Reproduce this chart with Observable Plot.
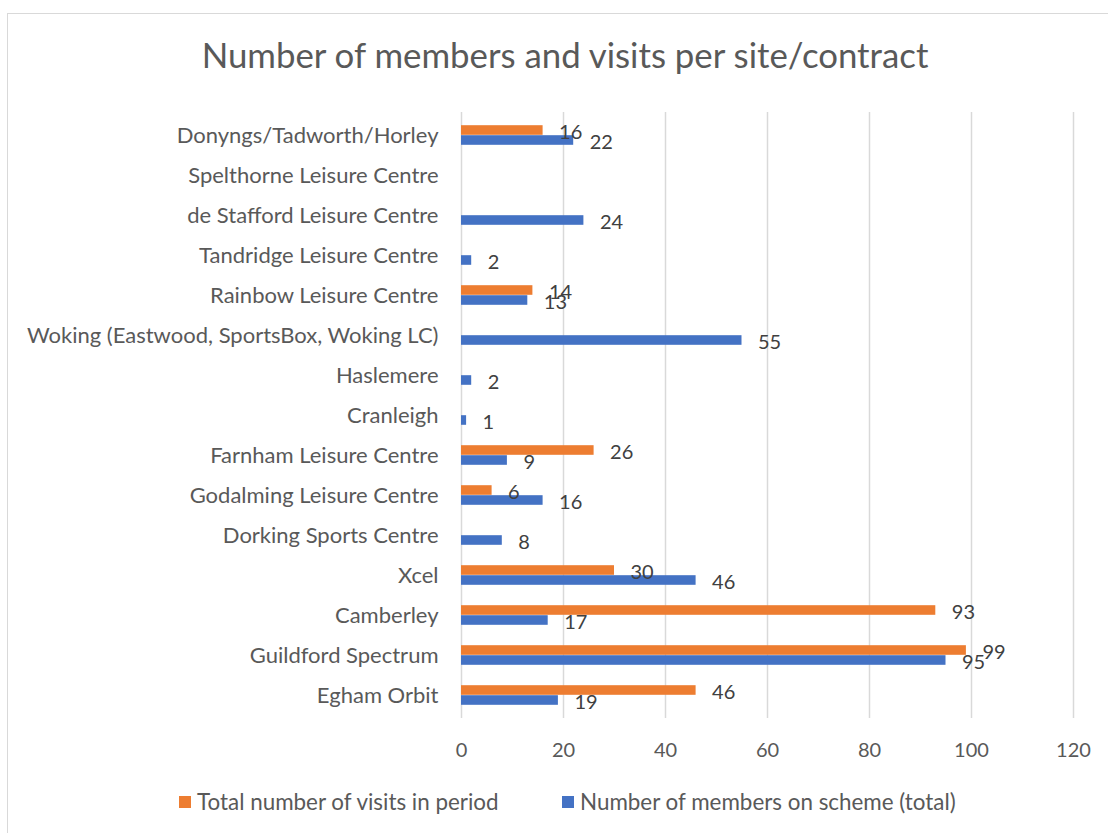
<!DOCTYPE html>
<html><head><meta charset="utf-8">
<script src="https://cdn.jsdelivr.net/npm/d3@7"></script>
<script src="https://cdn.jsdelivr.net/npm/@observablehq/plot@0.6"></script>
<style>
html,body{margin:0;padding:0;background:#fff;overflow:hidden;width:1108px;height:833px;position:relative;}
#frame{position:absolute;left:7px;top:13px;width:1200px;height:900px;border:1.5px solid #d9d9d9;}
#title{position:absolute;left:0;width:1130px;top:34px;text-align:center;font-family:Lato;font-size:34.8px;color:#595959;line-height:42px;}
#chart{position:absolute;left:0;top:90px;}
.leg{position:absolute;top:790px;font-family:Lato;font-size:22.4px;color:#595959;line-height:24px;display:flex;align-items:center;}
.sw{display:inline-block;width:12px;height:12px;margin-right:6px;}
</style></head>
<body>
<div id="frame"></div>
<div id="title">Number of members and visits per site/contract</div>
<div id="chart"></div>
<div id="legend"></div>
<script>
const sites = [
  "Donyngs/Tadworth/Horley",
  "Spelthorne Leisure Centre",
  "de Stafford Leisure Centre",
  "Tandridge Leisure Centre",
  "Rainbow Leisure Centre",
  "Woking (Eastwood, SportsBox, Woking LC)",
  "Haslemere",
  "Cranleigh",
  "Farnham Leisure Centre",
  "Godalming Leisure Centre",
  "Dorking Sports Centre",
  "Xcel",
  "Camberley",
  "Guildford Spectrum",
  "Egham Orbit"
];
const visits  = [16, null, null, null, 14, null, null, null, 26, 6, null, 30, 93, 99, 46];
const members = [22, null, 24, 2, 13, 55, 2, 1, 9, 16, 8, 46, 17, 95, 19];
const seriesNames = ["Total number of visits in period", "Number of members on scheme (total)"];
const seriesColors = ["#ED7D31", "#4472C4"];
const xTicks = [0, 20, 40, 60, 80, 100, 120];

const visitRows = sites.map((s, i) => ({site: s, value: visits[i]})).filter(d => d.value != null);
const memberRows = sites.map((s, i) => ({site: s, value: members[i]})).filter(d => d.value != null);

const H = 690, mT = 22, mB = 62;
const band = (H - mT - mB) / sites.length;
const barH = 10;

const chart = Plot.plot({
  width: 1108,
  height: H,
  marginLeft: 461,
  marginRight: 35,
  marginTop: mT,
  marginBottom: mB,
  style: {fontFamily: "Lato", fontSize: "20px", color: "#595959", background: "transparent", overflow: "visible"},
  x: {domain: [0, 120], axis: null},
  y: {domain: sites, padding: 0, axis: null},
  marks: [
    Plot.gridX(xTicks, {stroke: "#d9d9d9", strokeOpacity: 1, strokeWidth: 1.5}),
    Plot.barX(visitRows, {x: "value", y: "site", fill: seriesColors[0],
      insetTop: band / 2 - barH, insetBottom: band / 2}),
    Plot.barX(memberRows, {x: "value", y: "site", fill: seriesColors[1],
      insetTop: band / 2, insetBottom: band / 2 - barH}),
    Plot.text(visitRows, {x: "value", y: "site", text: d => String(d.value), dx: 16, dy: -3,
      textAnchor: "start", fill: "#404040", fontSize: 20}),
    Plot.text(memberRows, {x: "value", y: "site", text: d => String(d.value), dx: 16, dy: 7,
      textAnchor: "start", fill: "#404040", fontSize: 20}),
    Plot.axisX(xTicks, {tickSize: 0, tickPadding: 24, fontSize: 20, fill: "#595959", label: null}),
    Plot.axisY(sites, {tickSize: 0, tickPadding: 23, fontSize: 22, fill: "#595959", label: null})
  ]
});
document.getElementById("chart").appendChild(chart);

const legend = document.getElementById("legend");
const legX = [179, 562];
seriesNames.forEach((name, i) => {
  const item = document.createElement("div");
  item.className = "leg";
  item.style.left = legX[i] + "px";
  const sw = document.createElement("span");
  sw.className = "sw";
  sw.style.background = seriesColors[i];
  item.appendChild(sw);
  item.appendChild(document.createTextNode(name));
  legend.appendChild(item);
});
</script>
</body></html>
